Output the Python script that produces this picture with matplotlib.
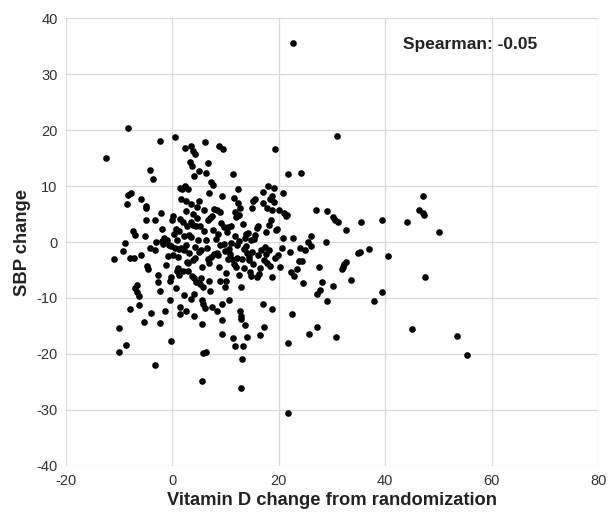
import matplotlib
matplotlib.use("Agg")
import matplotlib.pyplot as plt

plt.rcParams['font.family'] = ['Liberation Sans', 'DejaVu Sans']
plt.rcParams['axes.unicode_minus'] = False

# Vitamin D change (x) and SBP change (y)
vitd = [
    -12.5, -11.0, -10.1, -10.1, -9.3, -9.0, -8.8, -8.5, -8.3, -8.3, -7.8, -8.0, -8.0, -7.2, -7.4, -7.0, -7.0, -6.7,
    -6.6, -6.2, -6.2, -5.9, -5.9, -5.4, -5.1, -5.0, -4.9, -5.0, -4.7, -4.6, -4.2, -4.3, -4.0, -3.6, -3.3, -3.3,
    -3.2, -3.0, -2.8, -2.8, -2.4, -2.4, -2.3, -2.2, -2.0, -2.0, -1.5, -1.4, -1.2, -1.0, -0.7, -0.5, -0.4, -0.3,
    -0.3, -0.2,
    0.0, 0.1, 0.3, 0.5, 0.4, 0.6, 0.8, 1.0, 0.9, 1.2, 1.3, 1.4, 1.4, 1.4, 1.5, 1.6, 1.8, 1.7, 2.0, 2.1, 2.2, 2.3,
    2.4, 2.5, 2.5, 2.5, 2.6, 2.8, 3.0, 3.0, 3.1, 3.3, 3.4, 3.4, 3.4, 3.5, 3.5, 3.6, 3.7, 3.8, 3.8, 3.9, 4.0, 4.1,
    4.1, 4.1, 4.2, 4.2, 4.3, 4.4, 4.5, 4.8, 5.0, 5.0, 5.0, 5.1, 5.2,
    5.5, 5.5, 5.6, 5.6, 5.8, 5.8, 5.8, 6.0, 6.1, 6.2, 6.3, 6.3, 6.4, 6.5, 6.6, 6.6, 6.8, 6.9, 7.0, 7.2, 7.3, 7.5,
    7.6, 7.7, 7.8, 8.3, 8.3, 8.5, 8.6, 8.7, 8.8, 8.9, 9.0, 9.3, 9.4, 9.4, 9.4, 9.5, 9.6, 9.6, 9.8, 10.0, 10.3,
    10.7, 10.7, 10.9, 11.0,
    11.3, 11.4, 11.5, 11.6, 11.7, 11.8, 11.9, 12.0, 12.2, 12.3, 12.4, 12.5, 12.6, 12.7, 12.7, 12.8, 12.8, 12.9,
    12.9, 13.0, 13.1, 13.2, 13.4, 13.5, 13.6, 13.7, 13.8, 14.0, 14.1, 14.2, 14.5, 14.7, 15.0, 15.0, 15.1, 15.2,
    15.3, 15.6, 15.8, 15.9, 16.0, 16.2, 16.4,
    16.7, 17.0, 17.0, 17.1, 17.2, 17.3, 17.5, 17.7, 17.8, 18.0, 18.1, 18.3, 18.4, 18.5, 18.7, 18.8, 18.8, 18.8,
    19.0, 19.1, 19.2, 19.3, 19.5, 19.7, 20.1, 20.3, 20.5, 20.7, 20.8, 21.0, 21.3, 21.5, 21.7, 21.7, 21.7, 22.0,
    22.3, 22.5, 22.6, 22.6, 22.9, 23.5, 23.8, 24.1, 24.0, 24.3, 24.5, 24.9,
    25.5, 25.7, 26.0, 26.1, 26.9, 27.2, 27.2, 27.5, 27.7, 28.2, 28.9, 29.1, 29.1, 30.1, 30.2, 30.5, 30.8, 30.9,
    31.2, 31.8, 32.0, 32.3, 32.7, 32.7, 33.6, 34.9, 35.3, 35.4, 37.0, 37.8, 39.4, 39.4, 40.5, 44.1, 45.1, 46.4,
    47.0, 47.0, 47.2, 47.5, 50.1, 53.5, 55.4,
    # extra points in the dense core
    0.6, 1.1, 1.9, 2.7, 3.2, 4.6, 5.3, 5.9, 6.7, 7.1, 7.9, 8.1, 8.9, 9.2, 10.1, 10.4, 11.1, 11.8, 12.1, 13.3,
    14.3, 14.8, 15.5, 16.5, 17.6, 18.2, -1.8, -0.9, 1.3, 2.9, 3.9, 4.7, 6.9, 8.4, 10.5, 12.6, 14.4, 16.1, 17.4,
    19.8, 0.2, 2.2, 5.4, 7.4, 9.9, 11.2, 13.9,
]
sbp = [
    15.0, -3.1, -15.4, -19.7, -1.6, -0.1, -18.4, 6.8, 8.4, 20.3, 8.8, -11.9, -2.9, -2.9, 1.9, 1.3, -8.2, -8.9,
    -7.6, -11.2, -9.6, 7.6, -2.3, -14.2, 1.0, 6.4, 6.1, 4.0, -4.3, -4.8, 12.9, -1.1, -12.6, 11.2, 4.0, -22.0,
    -1.4, 0.0, -5.9, -7.2, 18.0, -14.5, -8.7, 5.1, 2.4, 0.1, 0.8, -12.3, -4.1, 0.3, -0.6, -10.4, -7.0, -17.6,
    -0.7, -6.2,
    4.0, 4.6, 1.5, 18.7, -1.1, -8.3, -5.1, -4.7, 0.3, -5.9, -1.2, 9.7, -12.9, -11.6, 4.1, -1.0, 9.5, 7.6, -5.2,
    -1.4, -9.5, 16.8, 10.0, 7.4, 5.5, -12.4, -0.5, 2.9, 9.4, -5.2, -1.9, 14.3, 17.1, 6.8, -10.2, 3.5, 0.9, 13.6,
    -6.0, 16.2, 5.0, 3.1, -6.4, 11.8, -9.3, -13.3, 15.8, -2.8, -0.9, 2.9, -7.2, 0.3, 12.6, 7.3, -1.7, -7.5, 2.9,
    -14.7, -24.9, -10.4, -4.5, -11.1, -19.9, -8.0, 5.8, -11.7, 17.9, 12.4, 0.3, -19.6, -1.0, 14.2, 4.0, -6.9,
    8.8, -8.8, 10.7, -2.6, -11.6, 2.2, 10.2, 5.9, -12.3, 5.8, 1.5, -2.3, 17.1, -4.5, -6.9, 5.3, -16.5, 8.3,
    -13.9, -11.0, 16.6, 2.6, -0.4, -8.1, -7.0, 1.8, -10.4, -1.3, -2.2, -0.1,
    -17.2, 12.1, -3.9, 7.8, 5.4, -18.6, 4.4, -4.5, -0.5, 9.5, 7.0, -5.9, 4.9, 6.1, -12.3, -26.0, -13.2, -13.8,
    -8.1, -3.0, -20.9, -18.6, -4.7, -1.3, -14.9, 0.8, -0.8, -2.0, -17.0, 1.6, -5.3, -6.0, 6.0, -1.8, -4.0, 7.4,
    0.5, 7.6, 2.5, -6.3, -2.4, -5.8, -16.6,
    -1.4, 8.9, 7.0, -11.0, -15.2, -3.3, 1.8, -3.8, 6.0, 10.0, -1.4, 7.6, -4.2, 4.0, 8.3, 5.8, -6.2, -11.9,
    7.1, 9.6, -2.8, 16.7, 2.2, 2.4, 5.8, -4.5, -1.1, 0.7, 8.8, 5.2, 4.6, 4.8, 12.2, -18.1, -30.6, -1.7,
    -5.4, -12.8, 0.8, 35.6, -6.0, -4.8, -3.4, 12.4, -1.0, -3.4, -7.4, -1.4,
    0.0, -16.5, 1.1, -0.7, 5.7, -15.2, -9.2, -4.5, -8.5, -7.1, 0.0, 5.5, -10.5, -7.9, 4.5, 3.9, -17.0, 18.9,
    3.6, -4.9, -4.5, -3.9, 2.2, -3.5, -6.8, -2.0, -1.7, 3.5, -1.2, -10.6, 3.9, -8.9, -2.5, 3.5, -15.5, 5.7,
    8.3, 5.2, 4.9, -6.2, 1.7, -16.8, -20.1,
    2.4, -2.6, 3.6, -3.6, 1.2, 4.3, -1.4, 2.0, -3.0, 4.2, -2.1, 0.6, -0.6, 3.4, -5.5, -3.1, 2.9, 1.1, -2.8, 3.2,
    -3.2, 0.4, 1.2, -4.6, -2.2, 3.1, -0.3, -2.5, 2.0, -3.7, -3.3, 6.3, -3.8, -1.9, 2.7, 0.2, -2.6, 2.8, -0.9,
    -2.3, -2.4, 1.0, -6.5, 4.7, -1.6, -3.0, 1.4,
]

xticks = [-20, 0, 20, 40, 60, 80]
yticks = [-40, -30, -20, -10, 0, 10, 20, 30, 40]

fig = plt.figure(figsize=(6.11, 5.16), dpi=100)
ax = fig.add_axes([0.108, 0.097, 0.871, 0.868])

ax.scatter(vitd, sbp, s=23, color='black', linewidths=0, zorder=3)

ax.set_xlim(-20, 80)
ax.set_ylim(-40, 40)
ax.set_xticks(xticks)
ax.set_yticks(yticks)
ax.grid(True, color='#d9d9d9', linewidth=0.9, zorder=0)
ax.set_axisbelow(True)
for side in ax.spines:
    ax.spines[side].set_visible(False)
ax.tick_params(length=0, labelsize=10.5, labelcolor='#333333', pad=6)

ax.set_xlabel('Vitamin D change from randomization', fontsize=13.2, fontweight='bold',
              color='#222222', labelpad=3)
ax.set_ylabel('SBP change', fontsize=13.2, fontweight='bold', color='#222222', labelpad=4)

ax.text(43.3, 35.2, 'Spearman: -0.05', fontsize=12.5, fontweight='bold', va='center', ha='left',
        color='#222222')

fig.savefig('out.png', dpi=100)
